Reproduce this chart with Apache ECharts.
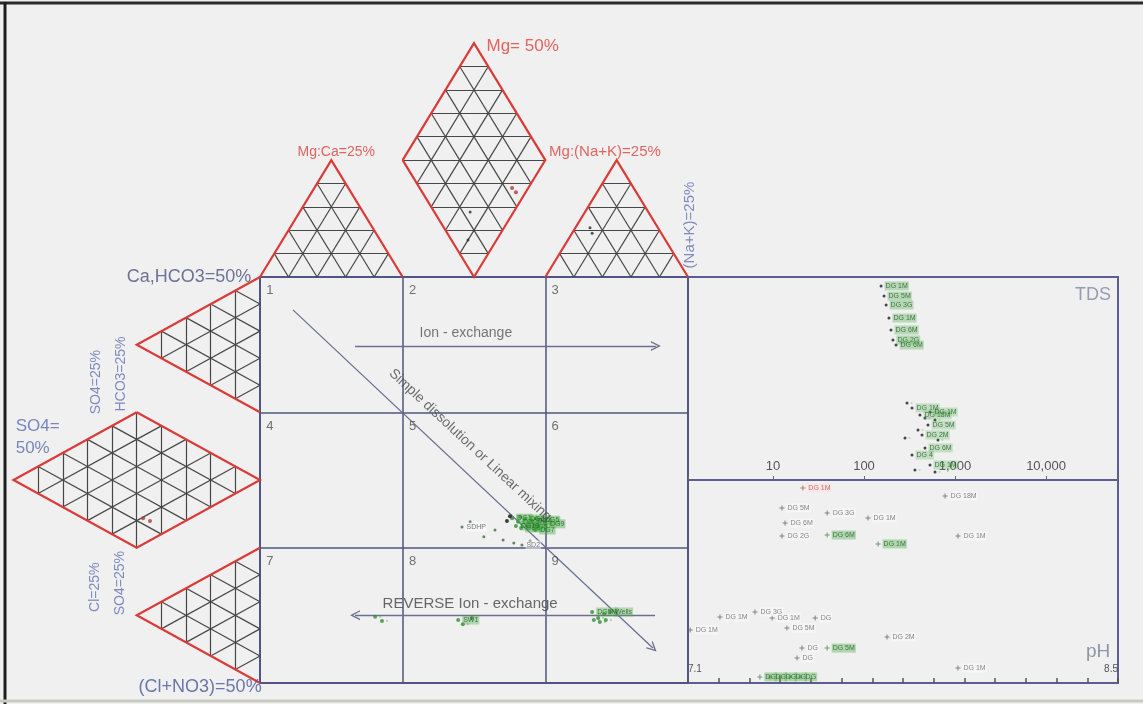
<!DOCTYPE html>
<html>
<head>
<meta charset="utf-8">
<script src="https://cdn.jsdelivr.net/npm/echarts@6/dist/echarts.min.js"></script>
<style>
html,body{margin:0;padding:0;background:#f0f0f0}
#c{width:1143px;height:704px}
</style>
</head>
<body>
<div id="c"></div>
<script>
// Expanded Durov diagram: cation / anion triangles, 3x3 classification square,
// TDS panel (log scale) and pH panel.

const FONT = 'Liberation Sans, Arial, sans-serif';

// ---------- sample data ----------
// classification square: x = cation position (%), y = anion position (%)
const squareMainPts = [[58.9,40.6],[60.3,39.7],[61.9,40.4],[63.6,39.9],[65.4,40.1],[62.6,38.4],[64.3,37.7],
  [61.0,38.2],[66.6,39.2],[59.8,38.7],[65.0,38.9],[63.0,39.5],[60.8,40.9],[64.6,40.6]];
const squareMainNames = ['DG1','DG2','DG3','DG4','DG5','DG6','DG7','DG8','DG9','DG10','','','',''];
const squareBlackPts = [[58.4,41.1],[57.7,39.9]];
const squareSidePts = [[47.2,38.4],[49.1,39.7],[52.3,36.0],[54.9,37.7],[56.8,35.2],[59.3,34.5],[61.2,34.0],[63.1,35.0]];
const squareSideNames = ['SDHP','','','','','','SD2',''];
const squareLowPts = [[77.6,17.5],[79.0,16.0],[80.4,17.0],[79.4,15.0],[78.0,15.5],[81.8,17.5],[80.8,15.5],
  [46.3,15.5],[47.4,14.5],[49.5,16.0],[26.9,16.3],[28.5,15.3]];
const squareLowNames = ['DG5M','','','','','Wells','','SW1','','','',''];

// triangle / diamond plots (same diagram units as the square)
const triRedPts = [[58.9,121.9],[59.8,120.9],[-27.3,40.6],[-25.7,39.9]];
const triDarkPts = [[49.1,116.0],[48.6,109.1],[77.1,112.1],[77.6,110.8]];

// TDS panel: [TDS mg/L, relative position %]
const tdsUpperPts = [[154,95.6],[166,90.6],[175,86.2],[188,79.8],[198,73.9],[208,69.0],[225,66.5]];
const tdsUpperNames = ['DG 1M','DG 5M','DG 3G','DG 1M','DG 6M','DG 2G','DG 6M'];
const tdsLowerPts = [[297,37.9],[337,35.5],[412,32.0],[468,30.5],[531,33.5],[603,29.6],[505,27.1],[392,24.6],
  [434,22.2],[282,20.7],[650,19.7],[337,12.3],[363,4.9],[468,15.8],[531,7.4],[603,3.9]];
const tdsLowerNames = ['','DG 1M','DG 18M','','DG 1M','','DG 5M','','DG 2M','','','DG 4','','DG 6M','DG 1M',''];
const tdsTicks = [10, 100, 1000, 10000];

// pH panel: [pH, relative position %]
const phGrayPts = [[7.406,86.2],[7.553,83.7],[7.686,81.3],[7.416,78.8],[7.406,72.4],[7.937,92.1],[7.979,72.4],
  [7.204,32.5],[7.318,35.0],[7.374,32.0],[7.514,32.0],[7.107,26.1],[7.422,27.1],[7.748,22.7],[7.471,17.2],
  [7.455,12.3],[7.979,7.4]];
const phGrayNames = ['DG 5M','DG 3G','DG 1M','DG 6M','DG 2G','DG 18M','DG 1M',
  'DG 1M','DG 3G','DG 1M','DG','DG 1M','DG 5M','DG 2M','DG','DG','DG 1M'];
const phGreenPts = [[7.553,72.9],[7.719,68.5],[7.553,17.2],[7.334,3.0],[7.367,3.0],[7.400,3.0],[7.432,3.0],[7.465,3.0]];
const phGreenNames = ['DG 6M','DG 1M','DG 5M','DG','DG','DG','DG','DG'];
const phRedPts = [[7.474,96.1]];
const phRedNames = ['DG 1M'];
const phRange = [7.1, 8.5];

// ---------- diagram geometry ----------
const H = 28.8;        // height of a trilinear triangle in diagram units
const T = 100 / 3;     // one third of the square side
const DIV = 5;         // grid subdivisions per triangle side

function lerp(p, q, t) { return [p[0] + (q[0] - p[0]) * t, p[1] + (q[1] - p[1]) * t]; }
function triGrid(A, B, C, n) {
  const segs = [];
  for (let k = 1; k < n; k++) {
    const t = k / n;
    segs.push([lerp(A, C, t), lerp(B, C, t)]);
    segs.push([lerp(A, B, t), lerp(C, B, t)]);
    segs.push([lerp(A, B, t), lerp(A, C, t)]);
  }
  return segs;
}

// top row: Mg:Ca triangle, cation diamond, Mg:(Na+K) triangle
const top1 = [[0,100],[T,100],[T/2,100+H]];
const dTop = {L:[T,100+H], R:[2*T,100+H], U:[50,100+2*H], D:[50,100]};
const top3 = [[2*T,100],[100,100],[2.5*T,100+H]];
// left column: HCO3 triangle, anion diamond, Cl triangle
const left1 = [[0,100],[0,2*T],[-H,2.5*T]];
const dLeft = {U:[-H,2*T], D:[-H,T], R:[0,50], L:[-2*H,50]};
const left3 = [[0,T],[0,0],[-H,T/2]];

let gridSegs = [];
gridSegs = gridSegs.concat(triGrid(top1[0], top1[1], top1[2], DIV));
gridSegs = gridSegs.concat(triGrid(dTop.L, dTop.R, dTop.U, DIV));
gridSegs = gridSegs.concat(triGrid(dTop.L, dTop.R, dTop.D, DIV));
gridSegs.push([dTop.L, dTop.R]);
gridSegs = gridSegs.concat(triGrid(top3[0], top3[1], top3[2], DIV));
gridSegs = gridSegs.concat(triGrid(left1[0], left1[1], left1[2], DIV));
gridSegs = gridSegs.concat(triGrid(dLeft.U, dLeft.D, dLeft.R, DIV));
gridSegs = gridSegs.concat(triGrid(dLeft.U, dLeft.D, dLeft.L, DIV));
gridSegs.push([dLeft.U, dLeft.D]);
gridSegs = gridSegs.concat(triGrid(left3[0], left3[1], left3[2], DIV));

const outlines = [
  [top1[0], top1[2], top1[1]],
  [dTop.L, dTop.U, dTop.R, dTop.D, dTop.L],
  [top3[0], top3[2], top3[1]],
  [left1[0], left1[2], left1[1]],
  [dLeft.U, dLeft.R, dLeft.D, dLeft.L, dLeft.U],
  [left3[0], left3[2], left3[1]]
];

// process arrows inside the square
const arrows = [
  [[22.2,83.0],[92.5,83.0]],   // ion exchange
  [[7.7,91.9],[91.8,8.6]],     // simple dissolution / mixing
  [[92.3,16.7],[22.2,16.7]]    // reverse ion exchange
];
const CHEVRON = 'path://M0,10L5,0L10,10L8.6,10L5,3L1.4,10Z';

// ---------- text helpers ----------
function note(x, y, text, o) {
  o = o || {};
  return {
    value: [x, y],
    label: {
      show: true, formatter: text, position: o.pos || 'inside', distance: 0,
      rotate: o.rotate || 0, fontSize: o.size || 13, color: o.color || '#555',
      fontFamily: FONT, lineHeight: o.lh || undefined
    }
  };
}
function pts(list, names) {
  return list.map((p, i) => ({ value: p, name: (names && names[i]) || '' }));
}
function noteSeries(xi, yi, data) {
  return {
    type: 'scatter', xAxisIndex: xi, yAxisIndex: yi, symbolSize: 1, clip: false, silent: true,
    itemStyle: { color: 'rgba(0,0,0,0)' }, z: 20, data: data
  };
}
function sampleLabel(color, bg) {
  return {
    show: true, formatter: p => p.name, position: 'right', distance: 2,
    fontSize: 7, color: color, backgroundColor: bg, padding: [1, 1], fontFamily: FONT
  };
}

const RED = '#e0403a';
const BLUE = '#6070b4';

const diagramNotes = [
  note(52.8, 156.7, 'Mg= 50%', {pos:'right', size:17, color:RED}),
  note(17.8, 130.8, 'Mg:Ca=25%', {size:14, color:RED}),
  note(80.6, 130.8, 'Mg:(Na+K)=25%', {size:15, color:RED}),
  note(-1.9, 100.0, 'Ca,HCO3=50%', {pos:'left', size:18, color:'#4c5180'}),
  note(-57.2, 60.6, 'SO4=\n50%', {pos:'right', size:17, color:'#5a6cb0', lh:22}),
  note(0.5, -1.0, '(Cl+NO3)=50%', {pos:'left', size:18, color:'#4a5898'}),
  note(-38.3, 74.1, 'SO4=25%', {rotate:90, size:14, color:BLUE}),
  note(-32.5, 76.1, 'HCO3=25%', {rotate:90, size:14, color:BLUE}),
  note(-38.6, 23.6, 'Cl=25%', {rotate:90, size:14, color:BLUE}),
  note(-32.7, 24.6, 'SO4=25%', {rotate:90, size:14, color:BLUE}),
  note(100.5, 112.8, '(Na+K)=25%', {rotate:90, size:15, color:BLUE})
];
const squareNotes = [];
for (let i = 0; i < 3; i++) {
  for (let j = 0; j < 3; j++) {
    squareNotes.push(note(2.3 + j * T, 96.6 - i * T, String(i * 3 + j + 1), {size:13, color:'#505050'}));
  }
}
squareNotes.push(note(48.1, 86.2, 'Ion - exchange', {size:14, color:'#555'}));
squareNotes.push(note(49.1, 19.5, 'REVERSE Ion - exchange', {size:15, color:'#444'}));
squareNotes.push(note(49.1, 58.6, 'Simple dissolution or Linear mixing', {size:14, color:'#4a4a4a', rotate:-43}));

const hidden = {show: false};
const option = {
  backgroundColor: '#f0f0f0',
  animation: false,
  textStyle: { fontFamily: FONT },
  grid: [
    { left: 3.2, right: 455, top: 33.4, bottom: 21 },                                      // diagram frame
    { left: 260, right: 455, top: 277, bottom: 21, show: true, borderColor: '#52579a', borderWidth: 2, backgroundColor: 'rgba(0,0,0,0)' },
    { left: 688, right: 25, top: 277, bottom: 224, show: true, borderColor: '#5a5e92', borderWidth: 2, backgroundColor: 'rgba(0,0,0,0)' },
    { left: 688, right: 25, top: 480, bottom: 21, show: true, borderColor: '#5a5e92', borderWidth: 2, backgroundColor: 'rgba(0,0,0,0)' }
  ],
  xAxis: [
    { gridIndex: 0, type: 'value', min: -60, max: 100, show: false },
    { gridIndex: 1, type: 'value', min: 0, max: 100, interval: T,
      axisLine: hidden, axisTick: hidden, axisLabel: hidden,
      splitLine: { show: true, lineStyle: { color: '#50557e', width: 1.5 } } },
    { gridIndex: 2, type: 'log', logBase: 10, min: 1.164, max: 61800,
      axisLine: hidden, splitLine: hidden,
      axisTick: { show: true, inside: true, length: 4, lineStyle: { color: '#666' } },
      axisLabel: { inside: true, margin: 7, fontSize: 13, color: '#555', fontFamily: FONT,
        formatter: v => {
          const hit = tdsTicks.find(t => Math.abs(t - v) / t < 1e-6);
          return hit ? hit.toLocaleString('en-US') : '';
        } } },
    { gridIndex: 3, type: 'value', min: phRange[0], max: phRange[1], interval: 0.1,
      axisLine: hidden, splitLine: hidden,
      axisTick: { show: true, inside: true, length: 5, lineStyle: { color: '#555', width: 1.5 } },
      axisLabel: { inside: true, margin: 9, fontSize: 10, color: '#555', fontFamily: FONT,
        showMinLabel: true, showMaxLabel: true, alignMinLabel: 'left', alignMaxLabel: 'right',
        formatter: v => (Math.abs(v - phRange[0]) < 1e-6 || Math.abs(v - phRange[1]) < 1e-6) ? v.toFixed(1) : '' } }
  ],
  yAxis: [
    { gridIndex: 0, type: 'value', min: 0, max: 160, show: false },
    { gridIndex: 1, type: 'value', min: 0, max: 100, interval: T,
      axisLine: hidden, axisTick: hidden, axisLabel: hidden,
      splitLine: { show: true, lineStyle: { color: '#50557e', width: 1.5 } } },
    { gridIndex: 2, type: 'value', min: 0, max: 100, show: false },
    { gridIndex: 3, type: 'value', min: 0, max: 100, show: false }
  ],
  graphic: [
    { type: 'line', shape: { x1: 0, y1: 3, x2: 1143, y2: 3 }, style: { stroke: '#2a2a2a', lineWidth: 3 }, z: 100 },
    { type: 'line', shape: { x1: 5, y1: 2, x2: 5, y2: 704 }, style: { stroke: '#1e1e1e', lineWidth: 3 }, z: 100 },
    { type: 'line', shape: { x1: 0, y1: 701, x2: 1143, y2: 701 }, style: { stroke: '#c9c9c2', lineWidth: 3 }, z: 100 }
  ],
  series: [
    { type: 'lines', coordinateSystem: 'cartesian2d', xAxisIndex: 0, yAxisIndex: 0, silent: true, z: 2,
      lineStyle: { color: '#474747', width: 1.2, opacity: 1 },
      data: gridSegs.map(s => ({ coords: s })) },
    { type: 'lines', coordinateSystem: 'cartesian2d', xAxisIndex: 0, yAxisIndex: 0, polyline: true, silent: true, z: 3,
      lineStyle: { color: '#dc3a36', width: 2.2, opacity: 1 },
      data: outlines.map(c => ({ coords: c })) },
    { type: 'scatter', xAxisIndex: 0, yAxisIndex: 0, symbolSize: 4, silent: true, z: 5,
      itemStyle: { color: '#b23a32' }, data: triRedPts },
    { type: 'scatter', xAxisIndex: 0, yAxisIndex: 0, symbolSize: 3, silent: true, z: 5,
      itemStyle: { color: '#2a2a40' }, data: triDarkPts },
    noteSeries(0, 0, diagramNotes),

    { type: 'lines', coordinateSystem: 'cartesian2d', xAxisIndex: 1, yAxisIndex: 1, silent: true, z: 4,
      symbol: ['none', CHEVRON], symbolSize: [9, 10],
      lineStyle: { color: '#6b7090', width: 1.3, opacity: 1 },
      data: arrows.map(a => ({ coords: a })) },
    noteSeries(1, 1, squareNotes),
    { type: 'scatter', xAxisIndex: 1, yAxisIndex: 1, symbolSize: 4, silent: true, z: 6,
      itemStyle: { color: '#2f8f32' }, label: sampleLabel('#1e5a1e', 'rgba(70,170,70,0.55)'),
      data: pts(squareMainPts, squareMainNames) },
    { type: 'scatter', xAxisIndex: 1, yAxisIndex: 1, symbolSize: 4, silent: true, z: 7,
      itemStyle: { color: '#111' }, data: squareBlackPts },
    { type: 'scatter', xAxisIndex: 1, yAxisIndex: 1, symbolSize: 3, silent: true, z: 6,
      itemStyle: { color: '#3d6e3d' }, label: sampleLabel('#555', 'rgba(255,255,255,0.6)'),
      data: pts(squareSidePts, squareSideNames) },
    { type: 'scatter', xAxisIndex: 1, yAxisIndex: 1, symbolSize: 4, silent: true, z: 6,
      itemStyle: { color: '#2f8f32' }, label: sampleLabel('#1e5a1e', 'rgba(70,170,70,0.45)'),
      data: pts(squareLowPts, squareLowNames) },

    { type: 'scatter', xAxisIndex: 2, yAxisIndex: 2, symbolSize: 3, silent: true, z: 6,
      itemStyle: { color: '#1a1a2a' }, label: sampleLabel('#245a24', 'rgba(80,175,80,0.45)'),
      data: pts(tdsUpperPts, tdsUpperNames) },
    { type: 'scatter', xAxisIndex: 2, yAxisIndex: 2, symbolSize: 3, silent: true, z: 6,
      itemStyle: { color: '#1a1a2a' }, label: sampleLabel('#245a24', 'rgba(80,175,80,0.35)'),
      data: pts(tdsLowerPts, tdsLowerNames) },
    noteSeries(2, 2, [note(32800, 91.1, 'TDS', {size:18, color:'#8088a2'})]),

    { type: 'scatter', xAxisIndex: 3, yAxisIndex: 3, symbol: 'path://M4,0H6V4H10V6H6V10H4V6H0V4H4Z', symbolSize: 5,
      silent: true, z: 6, itemStyle: { color: '#666' }, label: sampleLabel('#666', 'rgba(255,255,255,0.5)'),
      data: pts(phGrayPts, phGrayNames) },
    { type: 'scatter', xAxisIndex: 3, yAxisIndex: 3, symbol: 'path://M4,0H6V4H10V6H6V10H4V6H0V4H4Z', symbolSize: 5,
      silent: true, z: 6, itemStyle: { color: '#4a8a4a' }, label: sampleLabel('#1e5a1e', 'rgba(80,175,80,0.5)'),
      data: pts(phGreenPts, phGreenNames) },
    { type: 'scatter', xAxisIndex: 3, yAxisIndex: 3, symbol: 'path://M4,0H6V4H10V6H6V10H4V6H0V4H4Z', symbolSize: 5,
      silent: true, z: 6, itemStyle: { color: '#c05050' }, label: sampleLabel('#c04a4a', 'rgba(255,220,220,0.5)'),
      data: pts(phRedPts, phRedNames) },
    noteSeries(3, 3, [note(8.435, 15.3, 'pH', {size:19, color:'#777d96'})])
  ]
};

const chart = echarts.init(document.getElementById('c'));
chart.setOption(option);
</script>
</body>
</html>
